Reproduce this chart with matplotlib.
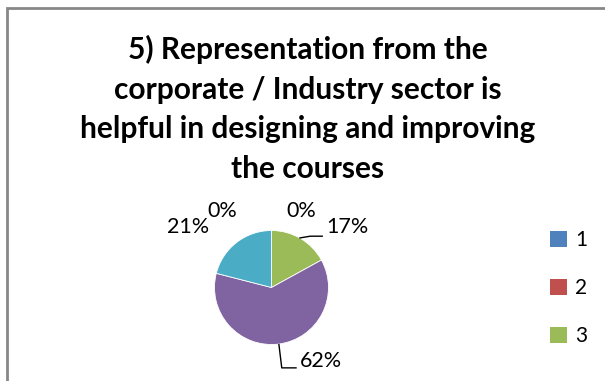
import numpy as np
import matplotlib.pyplot as plt
from matplotlib.patches import Rectangle, Patch

# data
categories = ["1", "2", "3", "4", "5"]
values = [0, 0, 17, 62, 21]
colors = ["#4F81BD", "#C0504D", "#9BBB59", "#8064A2", "#4BACC6"]
title = ("5) Representation from the\ncorporate / Industry sector is\n"
         "helpful in designing and improving\nthe courses")

W, H = 605, 381
fig = plt.figure(figsize=(W / 100, H / 100), dpi=100)

# outer chart frame (cut off at right and bottom)
fig.patches.append(Rectangle((6.5 / W, -0.1), 1.2, 1 - 8 / H + 0.1,
                             transform=fig.transFigure, fill=False,
                             edgecolor="#878787", linewidth=2))

fig.text(308 / W, 1 - 109 / H, title, ha="center", va="center",
         fontsize=21.5, fontweight="bold", family="Lato", linespacing=1.5)

# pie axes centred on the pie
cx, cy, r = 271.5, 287.5, 57
ax = fig.add_axes([(cx - r) / W, 1 - (cy + r) / H, 2 * r / W, 2 * r / H])
wedges, _ = ax.pie(values, colors=colors, startangle=90, counterclock=False,
                   radius=1, wedgeprops=dict(linewidth=0.6, edgecolor="white"))
ax.set_xlim(-1, 1)
ax.set_ylim(-1, 1)
ax.set_aspect("equal")
ax.axis("off")

# label placement (in pie radii) relative to centre
label_pos = [(-0.86, 1.35), (0.53, 1.35), (1.33, 1.07), (0.86, -1.29), (-1.46, 1.07)]
leaders = {2: [(0.5, 0.87), (0.68, 0.9), (0.89, 0.9)],
           3: [(0.13, -1.0), (0.18, -1.41), (0.43, -1.41)]}
for i, (v, (lx, ly)) in enumerate(zip(values, label_pos)):
    ax.text(lx, ly, f"{v}%", ha="center", va="center", fontsize=15.5,
            family="Lato", clip_on=False)
    if i in leaders:
        xs, ys = zip(*leaders[i])
        ax.plot(xs, ys, color="black", linewidth=1, clip_on=False)

# only the first three legend entries fit inside the chart area
handles = [Patch(facecolor=c, edgecolor="none") for c in colors]
fig.legend(handles[:3], categories[:3], loc="upper left",
           bbox_to_anchor=(550 / W, 1 - 230 / H), frameon=False,
           prop=dict(family="Lato", size=15), handlelength=0.8,
           handleheight=0.8, handletextpad=0.4, labelspacing=1.35,
           borderpad=0, borderaxespad=0)

fig.savefig("out.png", dpi=100)
